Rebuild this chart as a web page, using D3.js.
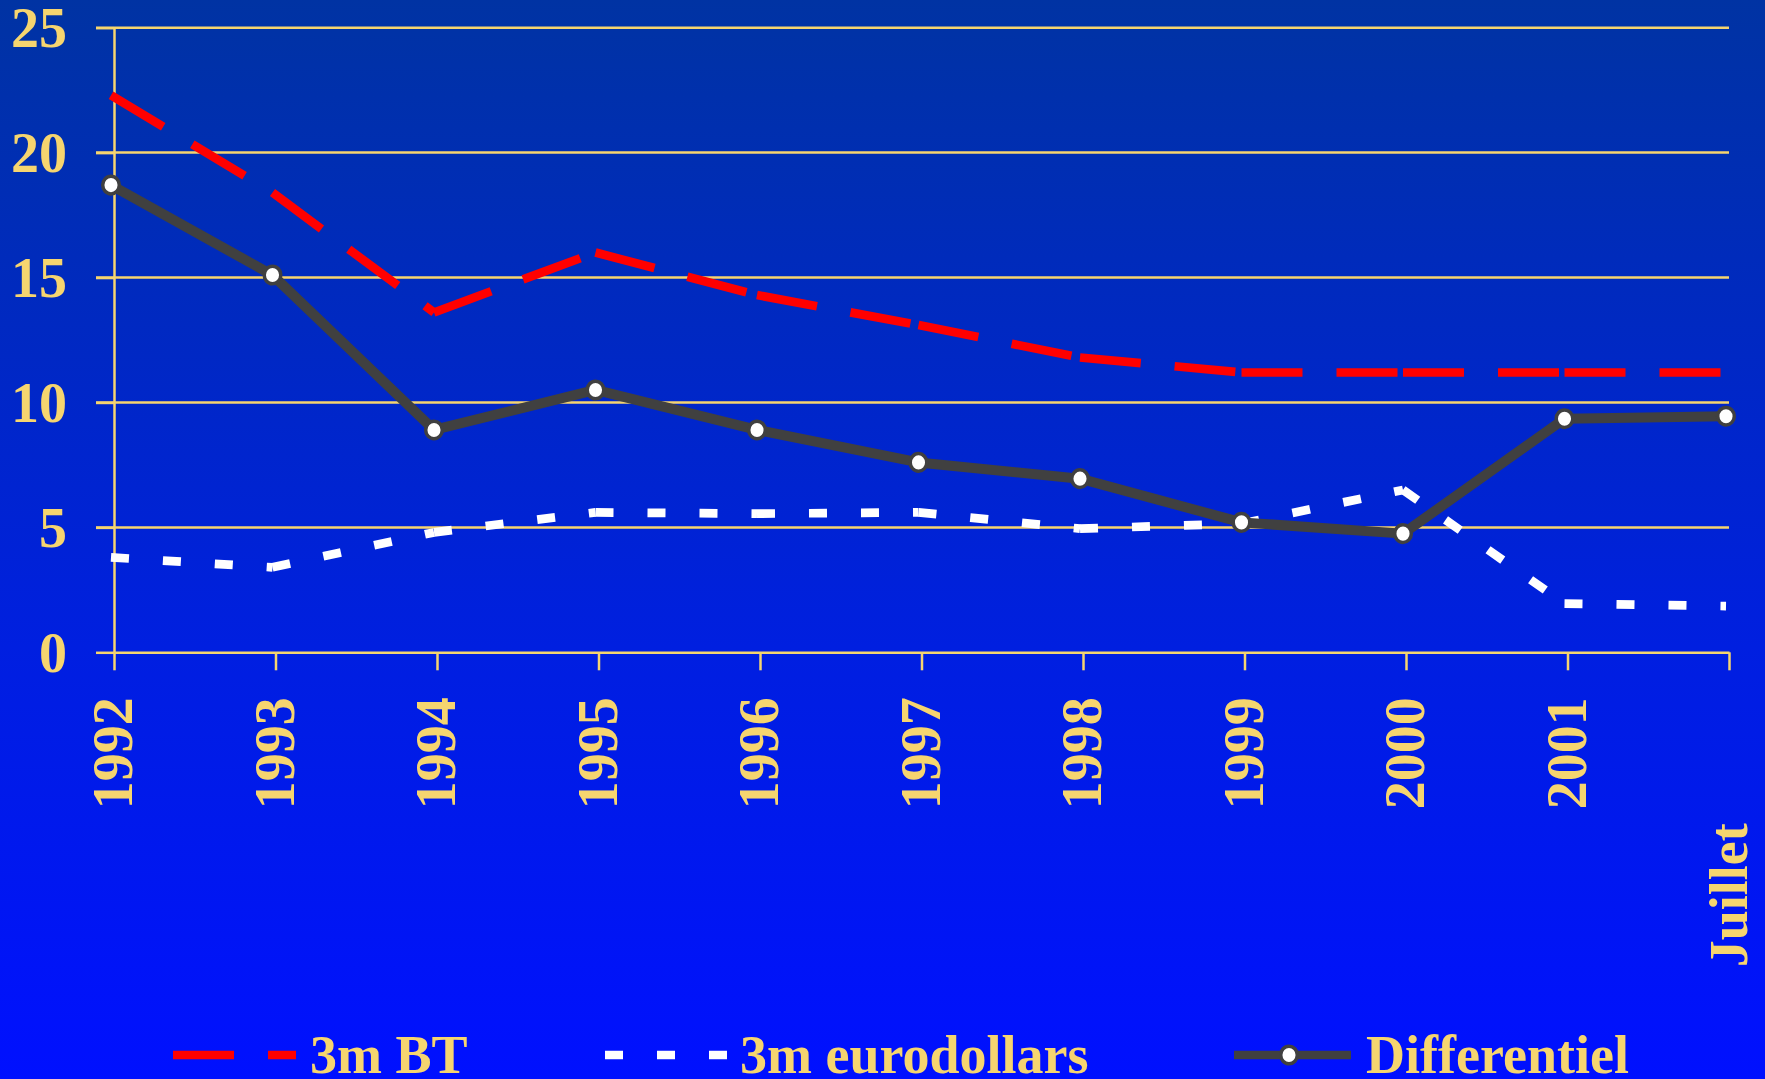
<!DOCTYPE html>
<html lang="fr">

<head>
    <meta charset="UTF-8">
    <title>Taux 3m BT / eurodollars</title>
    <style>
        body {
            margin: 0;
            overflow: hidden;
        }

        text {
            font-family: "Liberation Serif", "Times New Roman", serif;
            font-weight: bold;
            fill: #f6d56f;
        }
    </style>
</head>

<body>
    <div id="wrapper"></div>

    <script src="https://d3js.org/d3.v7.min.js"></script>
    <script>
        // données
        const categories = ["1992", "1993", "1994", "1995", "1996", "1997", "1998", "1999", "2000", "2001", "Juillet"];
        const bt3m = [22.3, 18.4, 13.6, 16.0, 14.3, 13.1, 11.8, 11.2, 11.2, 11.2, 11.2];
        const eurodollars3m = [3.8, 3.4, 4.8, 5.6, 5.55, 5.6, 4.95, 5.15, 6.5, 1.95, 1.85];
        const differentiel = [18.7, 15.1, 8.9, 10.5, 8.9, 7.6, 6.95, 5.2, 4.75, 9.35, 9.45];
        const yTicks = [0, 5, 10, 15, 20, 25];

        const svgwidth = 1765,
            svgheight = 1079;
        const yellow = '#f6d56f';

        const svg = d3.select('#wrapper').append('svg')
            .attr('width', svgwidth)
            .attr('height', svgheight);

        // fond dégradé
        const grad = svg.append('defs').append('linearGradient')
            .attr('id', 'bg')
            .attr('x1', 0).attr('y1', 0).attr('x2', 0).attr('y2', 1);
        grad.append('stop').attr('offset', '0%').attr('stop-color', '#0033a3');
        grad.append('stop').attr('offset', '60%').attr('stop-color', '#001fe0');
        grad.append('stop').attr('offset', '100%').attr('stop-color', '#0010ff');
        svg.append('rect').attr('width', svgwidth).attr('height', svgheight).attr('fill', 'url(#bg)');

        const xScale = d3.scalePoint()
            .domain(categories)
            .range([114, 1729]);

        const yScale = d3.scaleLinear()
            .domain([0, 25])
            .range([652.3, 27.7]);

        // lignes de grille
        svg.append('g')
            .selectAll('line')
            .data(yTicks.filter(d => d > 0))
            .join('line')
            .attr('x1', 96)
            .attr('x2', 1729)
            .attr('y1', d => yScale(d))
            .attr('y2', d => yScale(d))
            .attr('stroke', yellow)
            .attr('stroke-width', 2.5);

        // axe Y
        const yAxis = d3.axisLeft(yScale)
            .tickValues(yTicks)
            .tickFormat(d3.format('d'))
            .tickSizeOuter(0)
            .tickSizeInner(18)
            .tickPadding(29);

        const gy = svg.append('g')
            .attr('transform', 'translate(114,0)')
            .call(yAxis);
        gy.selectAll('path, line').attr('stroke', yellow).attr('stroke-width', 2.5);
        gy.selectAll('text')
            .attr('fill', yellow)
            .attr('dy', '0.34em')
            .style('font-size', '56px');

        // axe X
        const xAxis = d3.axisBottom(xScale)
            .tickSizeOuter(0)
            .tickSizeInner(18);

        const gx = svg.append('g')
            .attr('transform', `translate(0,${yScale(0)})`)
            .call(xAxis);
        gx.selectAll('path, line').attr('stroke', yellow).attr('stroke-width', 2.5);
        gx.selectAll('text')
            .attr('fill', yellow)
            .attr('transform', 'rotate(-90)')
            .attr('x', d => d === 'Juillet' ? -171 : -45)
            .attr('y', 0)
            .attr('dy', '0.32em')
            .style('text-anchor', 'end')
            .style('font-size', d => d === 'Juillet' ? '54px' : '56px');
        gx.attr('font-family', null).attr('font-size', null);
        gy.attr('font-family', null).attr('font-size', null);

        // lignes : un tracé par segment pour que les tirets repartent à chaque point
        const line = d3.line()
            .x(d => xScale(d.cat))
            .y(d => yScale(d.val));

        function drawSeries(values, color, width, dash) {
            const pts = categories.map((c, i) => ({ cat: c, val: values[i] }));
            svg.append('g')
                .attr('transform', 'translate(-3,0)')
                .selectAll('path')
                .data(d3.pairs(pts))
                .join('path')
                .attr('d', d => line(d))
                .attr('fill', 'none')
                .attr('stroke', color)
                .attr('stroke-width', width)
                .attr('stroke-dasharray', dash);
        }

        drawSeries(bt3m, '#ff0000', 8.7, '61,34');
        drawSeries(eurodollars3m, '#ffffff', 8.7, '18,34');
        drawSeries(differentiel, '#404040', 10, null);

        svg.append('g')
            .attr('transform', 'translate(-3,0)')
            .selectAll('ellipse')
            .data(differentiel)
            .join('ellipse')
            .attr('cx', (d, i) => xScale(categories[i]))
            .attr('cy', d => yScale(d))
            .attr('rx', 8.3)
            .attr('ry', 8.8)
            .attr('fill', '#ffffff')
            .attr('stroke', '#404040')
            .attr('stroke-width', 3.5);

        // légende
        const legendY = 1055;
        const legend = [
            { name: '3m BT', color: '#ff0000', dash: '61,34', x1: 173, x2: 296, tx: 310 },
            { name: '3m eurodollars', color: '#ffffff', dash: '18,34', x1: 605, x2: 727, tx: 740 },
            { name: 'Differentiel', color: '#404040', dash: null, x1: 1234, x2: 1351, tx: 1366 }
        ];

        const lg = svg.append('g');
        lg.selectAll('line')
            .data(legend)
            .join('line')
            .attr('x1', d => d.x1)
            .attr('x2', d => d.x2)
            .attr('y1', legendY)
            .attr('y2', legendY)
            .attr('stroke', d => d.color)
            .attr('stroke-width', 8.7)
            .attr('stroke-dasharray', d => d.dash);

        lg.append('ellipse')
            .attr('cx', 1289)
            .attr('cy', legendY)
            .attr('rx', 8.3)
            .attr('ry', 8.8)
            .attr('fill', '#ffffff')
            .attr('stroke', '#404040')
            .attr('stroke-width', 3.5);

        lg.selectAll('text')
            .data(legend)
            .join('text')
            .attr('x', d => d.tx)
            .attr('y', legendY)
            .attr('dy', '0.34em')
            .style('font-size', '54px')
            .text(d => d.name);
    </script>
</body>

</html>
